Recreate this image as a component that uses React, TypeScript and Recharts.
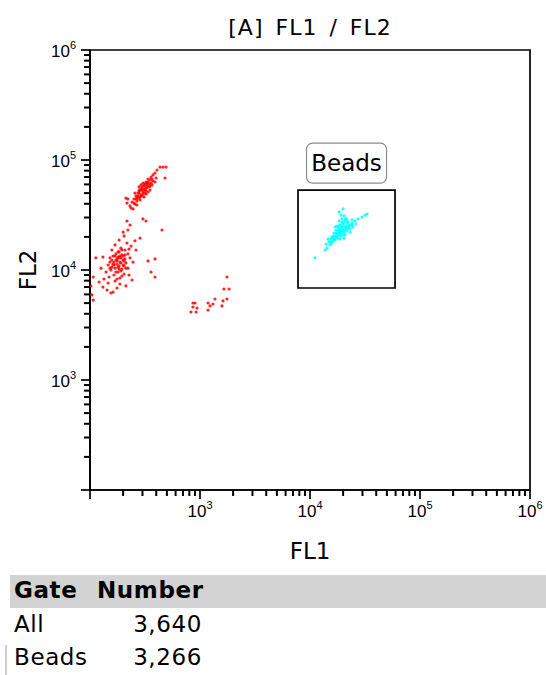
import React from "react";
import {
  ScatterChart,
  Scatter,
  XAxis,
  YAxis,
  ReferenceArea,
  ReferenceLine,
} from "recharts";

// FL1 / FL2 events (fluorescence units)
const redUpper = [
  { fl1: 433, fl2: 86300 }, { fl1: 461, fl2: 86300 }, { fl1: 491, fl2: 86300 },
  { fl1: 407, fl2: 81100 }, { fl1: 390, fl2: 76200 }, { fl1: 481, fl2: 68600 },
  { fl1: 374, fl2: 73100 }, { fl1: 359, fl2: 70000 }, { fl1: 351, fl2: 65800 },
  { fl1: 337, fl2: 67100 }, { fl1: 323, fl2: 63100 }, { fl1: 344, fl2: 60500 },
  { fl1: 310, fl2: 59300 }, { fl1: 330, fl2: 56900 }, { fl1: 297, fl2: 56900 },
  { fl1: 316, fl2: 53300 }, { fl1: 285, fl2: 53300 }, { fl1: 303, fl2: 51200 },
  { fl1: 273, fl2: 50100 }, { fl1: 291, fl2: 48100 }, { fl1: 262, fl2: 47100 },
  { fl1: 279, fl2: 45100 }, { fl1: 251, fl2: 44200 }, { fl1: 267, fl2: 42400 },
  { fl1: 241, fl2: 41500 }, { fl1: 256, fl2: 39800 }, { fl1: 231, fl2: 38200 },
  { fl1: 221, fl2: 44200 }, { fl1: 217, fl2: 40600 }, { fl1: 236, fl2: 36600 },
  { fl1: 366, fl2: 59300 }, { fl1: 351, fl2: 53300 }, { fl1: 323, fl2: 49100 },
  { fl1: 310, fl2: 46100 }, { fl1: 285, fl2: 43300 }, { fl1: 267, fl2: 39000 },
  { fl1: 374, fl2: 64400 }, { fl1: 398, fl2: 68600 }, { fl1: 303, fl2: 61800 },
  { fl1: 279, fl2: 56900 }, { fl1: 212, fl2: 45100 }, { fl1: 246, fl2: 35900 },
  { fl1: 337, fl2: 51200 }, { fl1: 256, fl2: 50100 }, { fl1: 316, fl2: 60500 },
  { fl1: 297, fl2: 53300 }, { fl1: 323, fl2: 55600 }, { fl1: 291, fl2: 59300 },
  { fl1: 330, fl2: 61800 }, { fl1: 310, fl2: 54500 }, { fl1: 279, fl2: 50100 },
  { fl1: 351, fl2: 58100 }, { fl1: 262, fl2: 44200 }, { fl1: 297, fl2: 47100 },
  { fl1: 390, fl2: 63100 }, { fl1: 291, fl2: 54500 }, { fl1: 310, fl2: 58100 },
  { fl1: 330, fl2: 59300 }, { fl1: 273, fl2: 47100 }, { fl1: 303, fl2: 49100 },
  { fl1: 323, fl2: 52300 }, { fl1: 344, fl2: 56900 }, { fl1: 359, fl2: 61800 },
  { fl1: 279, fl2: 52300 }, { fl1: 267, fl2: 45100 }, { fl1: 251, fl2: 40600 },
  { fl1: 337, fl2: 63100 }, { fl1: 366, fl2: 67100 }, { fl1: 316, fl2: 50100 },
  { fl1: 285, fl2: 46100 },
];

const redMiddle = [
  { fl1: 303, fl2: 29100 }, { fl1: 323, fl2: 27900 }, { fl1: 217, fl2: 27900 },
  { fl1: 452, fl2: 23100 }, { fl1: 231, fl2: 25600 }, { fl1: 200, fl2: 22100 },
  { fl1: 221, fl2: 23100 },
];

const redLower = [
  { fl1: 256, fl2: 18400 }, { fl1: 204, fl2: 20400 }, { fl1: 184, fl2: 18700 },
  { fl1: 217, fl2: 17600 }, { fl1: 169, fl2: 16900 }, { fl1: 236, fl2: 16500 },
  { fl1: 191, fl2: 15800 }, { fl1: 208, fl2: 15200 }, { fl1: 158, fl2: 15200 },
  { fl1: 180, fl2: 14600 }, { fl1: 221, fl2: 14000 }, { fl1: 195, fl2: 13700 },
  { fl1: 169, fl2: 13400 }, { fl1: 184, fl2: 12900 }, { fl1: 208, fl2: 12600 },
  { fl1: 152, fl2: 12900 }, { fl1: 176, fl2: 12100 }, { fl1: 191, fl2: 11600 },
  { fl1: 162, fl2: 11300 }, { fl1: 212, fl2: 11600 }, { fl1: 184, fl2: 10900 },
  { fl1: 146, fl2: 11100 }, { fl1: 169, fl2: 10400 }, { fl1: 195, fl2: 10200 },
  { fl1: 155, fl2: 10000 }, { fl1: 180, fl2: 9590 }, { fl1: 140, fl2: 9590 },
  { fl1: 204, fl2: 9200 }, { fl1: 165, fl2: 9010 }, { fl1: 149, fl2: 8640 },
  { fl1: 187, fl2: 8460 }, { fl1: 134, fl2: 8280 }, { fl1: 169, fl2: 7940 },
  { fl1: 146, fl2: 7620 }, { fl1: 187, fl2: 7460 }, { fl1: 131, fl2: 7000 },
  { fl1: 162, fl2: 6310 }, { fl1: 155, fl2: 6180 }, { fl1: 113, fl2: 12900 },
  { fl1: 131, fl2: 13100 }, { fl1: 337, fl2: 12100 }, { fl1: 390, fl2: 12600 },
  { fl1: 359, fl2: 9590 }, { fl1: 390, fl2: 8640 }, { fl1: 107, fl2: 8640 },
  { fl1: 102, fl2: 7160 }, { fl1: 104, fl2: 5930 }, { fl1: 107, fl2: 5330 },
  { fl1: 126, fl2: 10400 }, { fl1: 231, fl2: 12900 }, { fl1: 246, fl2: 11800 },
  { fl1: 221, fl2: 10400 }, { fl1: 262, fl2: 15200 }, { fl1: 285, fl2: 19500 },
  { fl1: 241, fl2: 8110 }, { fl1: 212, fl2: 7160 }, { fl1: 121, fl2: 7780 },
  { fl1: 143, fl2: 6580 }, { fl1: 176, fl2: 6860 }, { fl1: 226, fl2: 9010 },
  { fl1: 172, fl2: 12300 }, { fl1: 187, fl2: 11800 }, { fl1: 200, fl2: 11100 },
  { fl1: 180, fl2: 13100 }, { fl1: 176, fl2: 11300 }, { fl1: 191, fl2: 12900 },
  { fl1: 204, fl2: 12100 }, { fl1: 165, fl2: 11800 }, { fl1: 184, fl2: 10200 },
  { fl1: 200, fl2: 13400 }, { fl1: 158, fl2: 10600 }, { fl1: 212, fl2: 10400 },
  { fl1: 172, fl2: 14000 }, { fl1: 195, fl2: 15200 }, { fl1: 226, fl2: 15500 },
  { fl1: 152, fl2: 11800 }, { fl1: 176, fl2: 12600 }, { fl1: 187, fl2: 13400 },
  { fl1: 200, fl2: 12300 }, { fl1: 165, fl2: 11100 }, { fl1: 180, fl2: 10600 },
  { fl1: 191, fl2: 9790 }, { fl1: 172, fl2: 9590 }, { fl1: 158, fl2: 12300 },
  { fl1: 208, fl2: 13700 }, { fl1: 184, fl2: 14600 }, { fl1: 162, fl2: 13400 },
  { fl1: 204, fl2: 10900 }, { fl1: 152, fl2: 10400 }, { fl1: 195, fl2: 8820 },
  { fl1: 176, fl2: 8280 },
];

const redOutliers = [
  { fl1: 1758, fl2: 8640 }, { fl1: 1652, fl2: 6720 }, { fl1: 1836, fl2: 6720 },
  { fl1: 1368, fl2: 5450 }, { fl1: 1758, fl2: 5450 }, { fl1: 1619, fl2: 5230 },
  { fl1: 1585, fl2: 4710 }, { fl1: 1183, fl2: 5010 }, { fl1: 1233, fl2: 4710 },
  { fl1: 1313, fl2: 4910 }, { fl1: 1183, fl2: 4330 }, { fl1: 901, fl2: 5010 },
  { fl1: 863, fl2: 5010 }, { fl1: 863, fl2: 4610 }, { fl1: 940, fl2: 4510 },
  { fl1: 828, fl2: 4150 }, { fl1: 920, fl2: 4150 },
];

const beads = [
  { fl1: 11100, fl2: 12900 }, { fl1: 13700, fl2: 15200 }, { fl1: 14300, fl2: 15800 },
  { fl1: 20000, fl2: 35900 }, { fl1: 18400, fl2: 33700 }, { fl1: 20400, fl2: 31000 },
  { fl1: 19100, fl2: 31600 }, { fl1: 31600, fl2: 31600 }, { fl1: 33000, fl2: 32300 },
  { fl1: 29700, fl2: 30300 }, { fl1: 27300, fl2: 29100 }, { fl1: 25600, fl2: 27900 },
  { fl1: 24100, fl2: 26700 }, { fl1: 22600, fl2: 25600 }, { fl1: 21200, fl2: 24600 },
  { fl1: 20000, fl2: 23600 }, { fl1: 18700, fl2: 22600 }, { fl1: 17600, fl2: 21700 },
  { fl1: 16500, fl2: 20400 }, { fl1: 15500, fl2: 19100 }, { fl1: 14900, fl2: 18000 },
  { fl1: 15800, fl2: 17600 }, { fl1: 16900, fl2: 18700 }, { fl1: 18000, fl2: 19500 },
  { fl1: 19100, fl2: 20400 }, { fl1: 20400, fl2: 21700 }, { fl1: 21700, fl2: 22600 },
  { fl1: 23100, fl2: 23600 }, { fl1: 24600, fl2: 24600 }, { fl1: 26200, fl2: 26200 },
  { fl1: 19500, fl2: 27300 }, { fl1: 20800, fl2: 28500 }, { fl1: 18700, fl2: 25600 },
  { fl1: 18000, fl2: 24100 }, { fl1: 17200, fl2: 23100 }, { fl1: 16500, fl2: 21700 },
  { fl1: 18400, fl2: 21200 }, { fl1: 19500, fl2: 22100 }, { fl1: 20800, fl2: 20800 },
  { fl1: 17600, fl2: 25100 }, { fl1: 20000, fl2: 26200 }, { fl1: 22100, fl2: 27300 },
  { fl1: 15200, fl2: 16900 }, { fl1: 16200, fl2: 18400 }, { fl1: 17200, fl2: 19500 },
  { fl1: 16900, fl2: 24600 }, { fl1: 19100, fl2: 23600 }, { fl1: 21700, fl2: 25100 },
  { fl1: 23600, fl2: 25600 }, { fl1: 20400, fl2: 19500 }, { fl1: 18700, fl2: 19100 },
  { fl1: 18400, fl2: 27900 }, { fl1: 21200, fl2: 29700 }, { fl1: 15800, fl2: 20000 },
  { fl1: 23100, fl2: 22100 }, { fl1: 14000, fl2: 17200 }, { fl1: 14600, fl2: 19100 },
  { fl1: 19500, fl2: 29100 }, { fl1: 22100, fl2: 24100 }, { fl1: 24100, fl2: 28500 },
  { fl1: 18400, fl2: 23100 }, { fl1: 19500, fl2: 24600 }, { fl1: 20800, fl2: 23100 },
  { fl1: 18000, fl2: 20800 }, { fl1: 17200, fl2: 21700 }, { fl1: 20400, fl2: 25100 },
  { fl1: 18700, fl2: 21200 }, { fl1: 21700, fl2: 26700 }, { fl1: 16200, fl2: 19500 },
  { fl1: 19100, fl2: 25100 }, { fl1: 15500, fl2: 18000 }, { fl1: 16500, fl2: 19100 },
  { fl1: 17600, fl2: 20400 }, { fl1: 18700, fl2: 21700 }, { fl1: 20000, fl2: 22600 },
  { fl1: 21200, fl2: 23600 }, { fl1: 22600, fl2: 24600 }, { fl1: 24100, fl2: 25600 },
  { fl1: 18000, fl2: 22600 }, { fl1: 19100, fl2: 24100 }, { fl1: 20400, fl2: 27300 },
  { fl1: 18400, fl2: 25100 }, { fl1: 17200, fl2: 20400 }, { fl1: 21700, fl2: 28500 },
  { fl1: 20000, fl2: 20800 },
];

// gate "Beads" rectangle (FL1 from/to, FL2 from/to)
const beadsGate = { fl1: [7780, 59300], fl2: [6860, 53300] };

const axisMin = 100;
const axisMax = 1000000;
const majorTicks = [100, 1000, 10000, 100000, 1000000];
const minorTicks = [
  200, 300, 400, 500, 600, 700, 800, 900,
  2000, 3000, 4000, 5000, 6000, 7000, 8000, 9000,
  20000, 30000, 40000, 50000, 60000, 70000, 80000, 90000,
  200000, 300000, 400000, 500000, 600000, 700000, 800000, 900000,
];
const decadeLabels: Record<number, string> = {
  1000: "3",
  10000: "4",
  100000: "5",
  1000000: "6",
};

const gateNames = ["All", "Beads"];
const gateCounts = ["3,640", "3,266"];

const tickFont = "'Liberation Sans', Arial, sans-serif";
const textFont = "'DejaVu Sans', Verdana, sans-serif";
const ink = "#000";
const lineW = 1.7;

function XTick(props: any) {
  const { x, y, payload } = props;
  const exp = decadeLabels[Number(payload.value)];
  return (
    <g>
      <line x1={x} x2={x} y1={y} y2={y + 9} stroke={ink} strokeWidth={lineW} />
      {exp && (
        <text x={x} y={y + 27} textAnchor="middle" fontFamily={tickFont} fontSize={17} fill={ink}>
          10<tspan dy={-8} fontSize={11}>{exp}</tspan>
        </text>
      )}
    </g>
  );
}

function YTick(props: any) {
  const { x, y, payload } = props;
  const exp = decadeLabels[Number(payload.value)];
  return (
    <g>
      <line x1={x - 9} x2={x} y1={y} y2={y} stroke={ink} strokeWidth={lineW} />
      {exp && (
        <text x={x - 14} y={y + 7} textAnchor="end" fontFamily={tickFont} fontSize={17} fill={ink}>
          10<tspan dy={-8} fontSize={11}>{exp}</tspan>
        </text>
      )}
    </g>
  );
}

// short minor tick marks hanging off the axes, drawn from the line's end point
function MinorX(p: any) {
  const x = p.x1 ?? p.x;
  const y = Math.max(p.y1 ?? 0, p.y2 ?? 0);
  return <line x1={x} x2={x} y1={y} y2={y + 6} stroke={ink} strokeWidth={2} />;
}
function MinorY(p: any) {
  const x = Math.min(p.x1 ?? 0, p.x2 ?? 0);
  const y = p.y1 ?? p.y;
  return <line x1={x - 6} x2={x} y1={y} y2={y} stroke={ink} strokeWidth={2} />;
}

function dot(color: string) {
  return (p: any) => <circle cx={p.cx} cy={p.cy} r={1.6} fill={color} fillOpacity={0.85} />;
}

function GateLabel(props: any) {
  const vb = props.viewBox;
  const cx = vb.x + vb.width / 2;
  const top = vb.y - 47;
  return (
    <g>
      <rect x={cx - 40} y={top} width={80} height={40} rx={6} fill="#fff" stroke="#8c8c8c" strokeWidth={1.2} />
      <text x={cx} y={top + 28} textAnchor="middle" fontFamily={textFont} fontSize={23} fill={ink}>
        Beads
      </text>
    </g>
  );
}

const tableText = { fontFamily: textFont, fontSize: 23, letterSpacing: 0.6 };
const axisLine = { stroke: ink, strokeWidth: lineW };

export default function App() {
  return (
    <div style={{ position: "absolute", left: 0, top: 0, width: 546, height: 675, background: "#fff" }}>
      <div
        style={{
          position: "absolute",
          left: 310,
          top: 27,
          transform: "translate(-50%, -50%)",
          whiteSpace: "nowrap",
          fontFamily: textFont,
          fontSize: 22,
          letterSpacing: 1,
          wordSpacing: 4,
        }}
      >
        [A] FL1 / FL2
      </div>
      <div style={{ position: "absolute", left: 0, top: 0 }}>
        <ScatterChart width={546} height={570} margin={{ top: 50, right: 16, bottom: 50, left: 30 }}>
          <XAxis
            type="number"
            dataKey="fl1"
            scale="log"
            domain={[axisMin, axisMax]}
            ticks={majorTicks}
            interval={0}
            allowDataOverflow
            tickSize={0}
            tickMargin={0}
            tickLine={false}
            tick={(p: any) => <XTick {...p} />}
            axisLine={axisLine}
            height={30}
          />
          <YAxis
            type="number"
            dataKey="fl2"
            scale="log"
            domain={[axisMin, axisMax]}
            ticks={majorTicks}
            interval={0}
            allowDataOverflow
            tickSize={0}
            tickMargin={0}
            tickLine={false}
            tick={(p: any) => <YTick {...p} />}
            axisLine={axisLine}
            width={60}
          />
          <ReferenceArea
            x1={axisMin}
            x2={axisMax}
            y1={axisMin}
            y2={axisMax}
            fill="none"
            stroke={ink}
            strokeWidth={lineW}
            ifOverflow="visible"
          />
          {minorTicks.map((v) => (
            <ReferenceLine
              key={`mx-${v}`}
              x={v}
              ifOverflow="visible"
              stroke="none"
              shape={(p: any) => <MinorX {...p} />}
            />
          ))}
          {minorTicks.map((v) => (
            <ReferenceLine
              key={`my-${v}`}
              y={v}
              ifOverflow="visible"
              stroke="none"
              shape={(p: any) => <MinorY {...p} />}
            />
          ))}
          <Scatter data={redUpper} shape={dot("#ff0000")} isAnimationActive={false} />
          <Scatter data={redMiddle} shape={dot("#ff0000")} isAnimationActive={false} />
          <Scatter data={redLower} shape={dot("#ff0000")} isAnimationActive={false} />
          <Scatter data={redOutliers} shape={dot("#ff0000")} isAnimationActive={false} />
          <Scatter data={beads} shape={dot("#00ffff")} isAnimationActive={false} />
          <ReferenceArea
            x1={beadsGate.fl1[0]}
            x2={beadsGate.fl1[1]}
            y1={beadsGate.fl2[0]}
            y2={beadsGate.fl2[1]}
            fill="none"
            stroke={ink}
            strokeWidth={lineW}
            fillOpacity={0}
            ifOverflow="visible"
            label={(p: any) => <GateLabel {...p} />}
          />
        </ScatterChart>
      </div>
      <div
        style={{
          position: "absolute",
          left: 28,
          top: 270,
          transform: "translate(-50%, -50%) rotate(-90deg)",
          fontFamily: textFont,
          fontSize: 23,
        }}
      >
        FL2
      </div>
      <div
        style={{
          position: "absolute",
          left: 310,
          top: 551,
          transform: "translate(-50%, -50%)",
          fontFamily: textFont,
          fontSize: 23,
        }}
      >
        FL1
      </div>
      {/* gate statistics */}
      <div
        style={{
          position: "absolute",
          left: 10,
          top: 575,
          width: 536,
          height: 33,
          background: "#d3d3d3",
        }}
      />
      <div style={{ position: "absolute", left: 5, top: 645, width: 2, height: 30, background: "#cfcfcf" }} />
      <div style={{ position: "absolute", left: 14, top: 577, fontWeight: "bold", ...tableText }}>Gate</div>
      <div style={{ position: "absolute", left: 97, top: 577, fontWeight: "bold", ...tableText }}>Number</div>
      {gateNames.map((name, i) => (
        <React.Fragment key={name}>
          <div style={{ position: "absolute", left: 14, top: 611 + i * 33, ...tableText }}>{name}</div>
          <div
            style={{
              position: "absolute",
              left: 90,
              width: 112,
              textAlign: "right",
              top: 611 + i * 33,
              ...tableText,
            }}
          >
            {gateCounts[i]}
          </div>
        </React.Fragment>
      ))}
    </div>
  );
}
